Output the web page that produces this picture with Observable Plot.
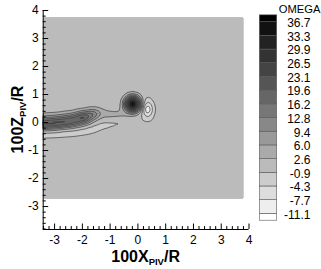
<!DOCTYPE html>
<html><head><meta charset="utf-8">
<script src="https://cdn.jsdelivr.net/npm/d3@7"></script>
<script src="https://cdn.jsdelivr.net/npm/@observablehq/plot@0.6"></script>
<style>
html,body{margin:0;padding:0;background:#fff;}
#wrap{position:relative;width:321px;height:269px;overflow:hidden;}
#wrap svg{position:absolute;top:0;}
#wrap svg, #wrap svg text{font-family:"Liberation Sans",Arial,sans-serif !important;}
</style></head><body><div id="wrap"></div>
<script>
// ---- legend levels & flood colours ----
const levelLabels = ["-11.1","-7.7","-4.3","-0.9","2.6","6.0","9.4","12.8","16.2","19.6","23.1","26.5","29.9","33.3","36.7"];
const levels = levelLabels.map(Number);
const grays = ["#ffffff","#eeeeee","#dddddd","#cccccc","#bbbbbb","#aaaaaa","#999999","#888888","#777777","#666666","#555555","#444444","#333333","#222222","#111111","#000000"];

// ---- axes ----
const xDomain = [-3.41, 4];
const zDomain = [-3.82, 4];
const xTicks = [-3,-2,-1,0,1,2,3,4];
const zTicks = [-3,-2,-1,0,1,2,3,4];

// ---- measured field extent ----
const fieldX = [-3.41, 3.8];
const fieldZ = [-2.72, 3.76];

// ---- background samples (omega ~ 0.8) ----
const background = 0.8;
const bgX = [-3.41,-2.0,-0.6,0.8,2.2,3.8,  -3.41,-1.5,1.0,3.8,  -3.41,-2.2,-1.0,0.0,1.0,2.2,3.8,  1.1,2.2,3.8,  -3.41,-2.2,-1.0,0.0,1.0,2.2,3.8,  -3.41,-2.0,-0.6,0.8,2.2,3.8];
const bgZ = [3.76,3.76,3.76,3.76,3.76,3.76,  2.6,2.6,2.6,2.6,  1.5,1.5,1.5,1.5,1.5,1.5,1.5,  0.3,0.3,0.3,  -1.2,-1.2,-1.2,-1.2,-1.2,-1.2,-1.2,  -2.72,-2.72,-2.72,-2.72,-2.72,-2.72];

// ---- wake sheet: cross-sections (z, omega) ----
const wakeX = [-3.41,-2.9,-2.4,-1.95,-1.6,-1.3,-0.95,-0.65];
const wakeZ = [
 [0.55,0.3,0.2,0.1,0.0,-0.08,-0.17,-0.25,-0.33,-0.5,-0.64],
 [0.6,0.33,0.23,0.13,0.03,-0.05,-0.14,-0.22,-0.3,-0.48,-0.62],
 [0.65,0.38,0.28,0.18,0.08,0.0,-0.1,-0.18,-0.26,-0.45,-0.58],
 [0.72,0.46,0.36,0.26,0.18,0.08,-0.03,-0.12,-0.2,-0.4,-0.54],
 [0.78,0.52,0.42,0.32,0.22,0.1,0.0,-0.1,-0.34,-0.48],
 [0.72,0.47,0.38,0.28,0.18,0.08,-0.02,-0.24,-0.38],
 [0.6,0.4,0.32,0.23,0.14,0.05,-0.15,-0.3],
 [0.56,0.4,0.33,0.25,0.16,0.08,-0.08,-0.22]
];
const wakeOmega = [
 [0.8,1.8,6,14,22,26,16,3.5,-2.4,-2.4,0.8],
 [0.8,1.8,6,15,23,25,15,3.5,-2.4,-2.4,0.8],
 [0.8,1.8,7,17,24,23,12,3,-2.4,-2.4,0.8],
 [0.8,1.8,9,22,29,20,7,2.2,-2.2,-2.2,0.8],
 [0.8,1.8,8,19,13,4.5,1.5,-2,-2,0.8],
 [0.8,1.8,4.6,5.2,2.5,-0.5,-1.6,-1.6,0.8],
 [0.8,1.8,4.3,4.3,1.5,-1.4,-1.4,0.8],
 [0.8,1.8,4.3,4.3,1.5,-1.3,-1.3,0.8]
];

// ---- bridge and strip under the vortex ----
const linkX = [-0.45,-0.45, -0.4,-0.1,0.2,0.5, -0.4,-0.05,0.3,0.65,0.8];
const linkZ = [0.3,0.17, 0.05,0.06,0.08,0.1, -0.12,-0.1,-0.1,-0.05,0.15];
const linkOmega = [4.3,1.0, -1.3,-1.3,-1.4,-1.3, 0.8,0.8,0.8,0.8,0.8];

// ---- tip vortex (positive) ----
const posCenter = [-0.19, 0.66];
const posPeak = 52;
const posRadii = [0.1,0.2,0.28,0.34,0.4,0.5];
const posOmega = [42,28,14,6,2.2,0.8];

// ---- counter vortex (negative) ----
const negCenter = [0.32, 0.47];
const negPeak = -22;
const negRxLeft = [0.04,0.075,0.105,0.135,0.2];
const negRxRight = [0.07,0.13,0.19,0.25,0.34];
const negRz = [0.09,0.18,0.28,0.4,0.58];
const negOmega = [-14,-8,-4.6,-2,0.8];

const ringAngles = d3.range(0, 360, 30);

// ---- assemble samples ----
const samples = [];
bgX.forEach((x,i)=>samples.push({x, y: bgZ[i], v: background}));
wakeX.forEach((x,i)=>wakeZ[i].forEach((z,j)=>samples.push({x, y: z, v: wakeOmega[i][j]})));
linkX.forEach((x,i)=>samples.push({x, y: linkZ[i], v: linkOmega[i]}));

const lastN = negRz.length - 1;
function insideNeg(x, y) {
  const dx = x - negCenter[0], dy = y - negCenter[1];
  const rx = dx < 0 ? negRxLeft[lastN] : negRxRight[lastN];
  return Math.hypot(dx/rx, dy/negRz[lastN]) < 1;
}
samples.push({x: posCenter[0], y: posCenter[1], v: posPeak});
posRadii.forEach((r,k)=>ringAngles.forEach(a=>{
  const t = a*Math.PI/180;
  const x = posCenter[0] + r*Math.cos(t), y = posCenter[1] + r*Math.sin(t);
  if (posOmega[k] < 2.5) {
    if (a === 210 || a === 240) return;
    if (insideNeg(x, y)) return;
  }
  samples.push({x, y, v: posOmega[k]});
}));
samples.push({x: negCenter[0], y: negCenter[1], v: negPeak});
negRz.forEach((rz,k)=>ringAngles.forEach(a=>{
  const t = a*Math.PI/180, c = Math.cos(t);
  const x = negCenter[0] + c*(c < 0 ? negRxLeft[k] : negRxRight[k]);
  const y = negCenter[1] + Math.sin(t)*rz;
  if (k === lastN && Math.hypot(x-posCenter[0], y-posCenter[1]) < 0.46) return;
  samples.push({x, y, v: negOmega[k]});
}));

const gridOpts = {x: "x", y: "y", interpolate: "barycentric", blur: 0.6,
  x1: fieldX[0], x2: fieldX[1], y1: fieldZ[0], y2: fieldZ[1]};
const lineStroke = "#3a3a3a";

const W = 321, H = 269, mL = 42.7, mR = 72.5, mT = 10, mB = 40;
const frameW = W - mL - mR, frameH = H - mT - mB;
const xMinor = d3.range(-34, 41, 2).map(d=>d/10).filter(d=>!Number.isInteger(d));
const zMinor = d3.range(-38, 41, 2).map(d=>d/10).filter(d=>!Number.isInteger(d));
const colorScale = {type: "threshold", domain: levels, range: grays};
const font = "'Liberation Sans', Arial, sans-serif";

const chart = Plot.plot({
  width: W, height: H, marginLeft: mL, marginRight: mR, marginTop: mT, marginBottom: mB,
  x: {domain: xDomain}, y: {domain: zDomain},
  color: colorScale,
  style: {fontFamily: font, fontSize: "12px", background: "transparent", color: "#000"},
  marks: [
    Plot.contour(samples, {...gridOpts, value: "v", fill: "value", stroke: "none", thresholds: [-1000, ...levels]}),
    Plot.contour(samples, {...gridOpts, value: "v", fill: "none", stroke: lineStroke, strokeWidth: 0.7,
      thresholds: levels.filter(l=>l>0)}),
    Plot.contour(samples, {...gridOpts, value: d=>-d.v, fill: "none", stroke: lineStroke, strokeWidth: 0.7,
      thresholds: levels.filter(l=>l<0).map(l=>-l)}),
    Plot.ruleX(xTicks, {stroke: "#000", insetTop: frameH - 5.5}),
    Plot.ruleX(xMinor, {stroke: "#000", insetTop: frameH - 3}),
    Plot.ruleY(zTicks, {stroke: "#000", insetRight: frameW - 5.5}),
    Plot.ruleY(zMinor, {stroke: "#000", insetRight: frameW - 3}),
    Plot.ruleX([xDomain[0]], {stroke: "#000"}),
    Plot.ruleY([zDomain[0]], {stroke: "#000"}),
    Plot.axisX(xTicks, {tickSize: 0, tickPadding: 6, tickFormat: d=>String(d), label: null, fontSize: 12}),
    Plot.axisY(zTicks, {tickSize: 0, tickPadding: 4.5, tickFormat: d=>String(d), label: null, fontSize: 12})
  ]
});
chart.style.left = "0px";
document.getElementById("wrap").appendChild(chart);

// axis titles with subscripts
const svg = d3.select(chart);
const cx = mL + frameW/2, cy = mT + frameH/2;
const xt = svg.append("text").attr("x", cx).attr("y", 262).attr("text-anchor", "middle")
  .attr("font-weight", "bold").attr("font-size", 16).attr("fill", "#000");
xt.append("tspan").text("100X");
xt.append("tspan").attr("font-size", 9.5).attr("dy", 3).text("PIV");
xt.append("tspan").attr("dy", -3).text("/R");
const yt = svg.append("text").attr("transform", `translate(23,${cy}) rotate(-90)`).attr("text-anchor", "middle")
  .attr("font-weight", "bold").attr("font-size", 16).attr("fill", "#000");
yt.append("tspan").text("100Z");
yt.append("tspan").attr("font-size", 9.5).attr("dy", 3).text("PIV");
yt.append("tspan").attr("dy", -3).text("/R");

// ---- colour legend ----
const n = levels.length;
const bands = [{y1: -0.5, y2: 0, lo: levels[0] - 1}];
for (let i = 1; i < n; i++) bands.push({y1: i-1, y2: i, lo: levels[i-1]});
bands.push({y1: n-1, y2: n-0.5, lo: levels[n-1]});
const legend = Plot.plot({
  width: 71, height: H, margin: 0,
  x: {domain: [0, 1], range: [9.3, 26.7], axis: null},
  y: {domain: [-0.5, n-0.5], range: [220.2, 14.85], axis: null},
  color: colorScale,
  style: {fontFamily: font, background: "transparent", color: "#000"},
  marks: [
    Plot.rect(bands, {x1: 0, x2: 1, y1: "y1", y2: "y2", fill: "lo", stroke: "#5a5a5a", strokeWidth: 0.6}),
    Plot.text(levelLabels, {x: 1, y: (d,i)=>i, text: d=>d, textAnchor: "end", dx: 33.3, dy: 1, fontSize: 12, fill: "#000"}),
    Plot.text(["OMEGA"], {x: 1, y: n-0.5, text: d=>d, textAnchor: "start", dx: 1.5, dy: -5.5, fontSize: 11.2, fill: "#000"})
  ]
});
legend.style.left = "250px";
document.getElementById("wrap").appendChild(legend);
</script></body></html>
